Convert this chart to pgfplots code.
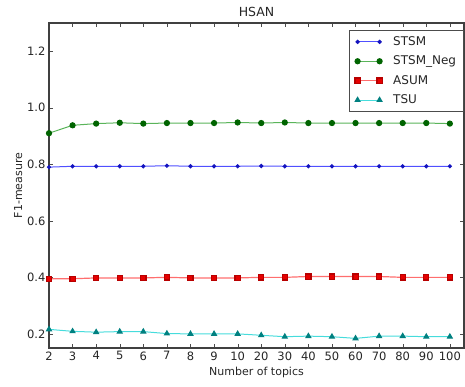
\documentclass[border=0pt]{standalone}
\usepackage{pgfplots}
\pgfplotsset{compat=1.18}
\usepackage{fontspec}
\setmainfont{DejaVu Sans}
\definecolor{lblue}{RGB}{80,80,255}
\definecolor{dblue}{RGB}{20,20,190}
\definecolor{lgreen}{RGB}{90,180,90}
\definecolor{dgreen}{RGB}{0,100,0}
\definecolor{lred}{RGB}{255,110,110}
\definecolor{dred}{RGB}{230,0,0}
\definecolor{lcyan}{RGB}{70,220,220}
\definecolor{dteal}{RGB}{0,128,128}
\begin{document}
\begin{tikzpicture}
\begin{axis}[name=a,
  scale only axis, width=415pt, height=325pt,
  xmin=0, xmax=17.6, ymin=0.15, ymax=1.3,
  xtick={0,...,17},
  xticklabels={2,3,4,5,6,7,8,9,10,20,30,40,50,60,70,80,90,100},
  ytick={0.2,0.4,0.6,0.8,1.0,1.2},
  yticklabel style={/pgf/number format/.cd,fixed,fixed zerofill,precision=1},
  /pgf/number format/assume math mode=true,
  tick align=inside, tick pos=both,
  major tick length=4pt,
  axis line style={black!75, line width=1.1pt},
  tick style={black!70},
  ticklabel style={font=\fontsize{11.5}{13}\selectfont, text=black!85},
  title={HSAN}, title style={font=\fontsize{12.5}{14}\selectfont, yshift=-3pt, text=black!85},
  xlabel={Number of topics}, ylabel={F1-measure},
  label style={font=\fontsize{11}{13}\selectfont, text=black!85},
  xlabel style={yshift=0pt}, ylabel style={yshift=-2pt},
  legend style={at={(0.999,0.978)}, anchor=north east, draw=black!70, line width=1pt,
    font=\fontsize{12}{14}\selectfont, row sep=5pt, column sep=9pt, inner xsep=5pt, inner ysep=4pt, text=black!85,
    cells={anchor=west}},
  legend cell align=left,
  legend image code/.code={\draw[#1] plot coordinates {(0pt,0pt)(22pt,0pt)};},
]
\addplot[lblue, line width=1pt, mark=*, mark size=1.6pt, mark options={fill=dblue, draw=dblue}] coordinates {
(0,0.790)(1,0.793)(2,0.793)(3,0.793)(4,0.793)(5,0.795)(6,0.793)(7,0.793)(8,0.793)(9,0.794)(10,0.793)(11,0.793)(12,0.793)(13,0.793)(14,0.793)(15,0.793)(16,0.793)(17,0.793)};
\addlegendentry{STSM}
\addplot[lgreen, line width=1pt, mark=*, mark size=2.6pt, mark options={fill=dgreen, draw=dgreen}] coordinates {
(0,0.910)(1,0.938)(2,0.944)(3,0.947)(4,0.944)(5,0.946)(6,0.946)(7,0.946)(8,0.948)(9,0.946)(10,0.948)(11,0.946)(12,0.946)(13,0.946)(14,0.946)(15,0.946)(16,0.946)(17,0.944)};
\addlegendentry{STSM\_Neg}
\addplot[lred, line width=1.2pt, mark=square*, mark size=2.6pt, mark options={fill=dred, draw=dred!80!black}] coordinates {
(0,0.395)(1,0.395)(2,0.398)(3,0.398)(4,0.398)(5,0.400)(6,0.398)(7,0.398)(8,0.398)(9,0.400)(10,0.400)(11,0.403)(12,0.403)(13,0.403)(14,0.403)(15,0.400)(16,0.400)(17,0.400)};
\addlegendentry{ASUM}
\addplot[lcyan, line width=1pt, mark=triangle*, mark size=2.8pt, mark options={fill=dteal, draw=dteal}] coordinates {
(0,0.216)(1,0.209)(2,0.206)(3,0.208)(4,0.208)(5,0.201)(6,0.200)(7,0.200)(8,0.200)(9,0.195)(10,0.190)(11,0.192)(12,0.190)(13,0.184)(14,0.192)(15,0.192)(16,0.190)(17,0.190)};
\addlegendentry{TSU}
\end{axis}
\path ([xshift=-49pt,yshift=-38pt]a.south west) ([xshift=1pt,yshift=23pt]a.north east);
\end{tikzpicture}
\end{document}
